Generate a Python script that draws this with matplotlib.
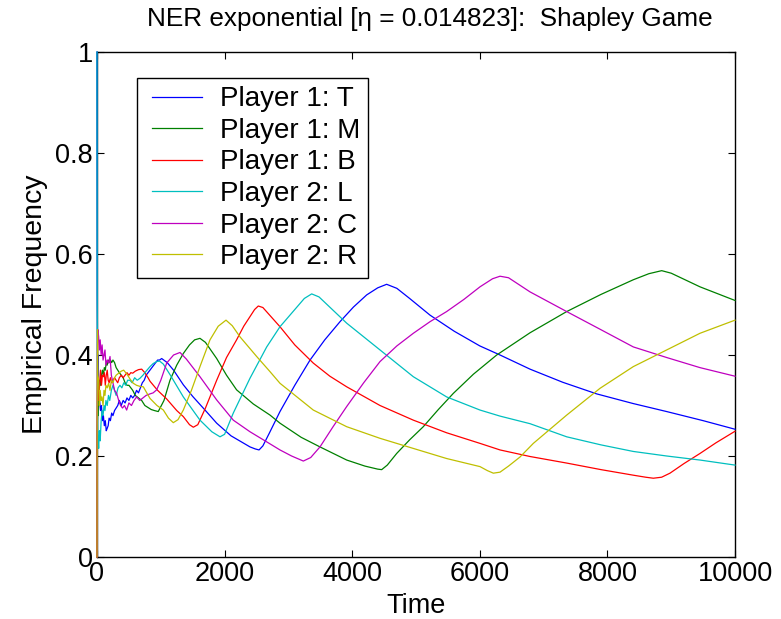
import numpy as np
import matplotlib
matplotlib.use('Agg')
from matplotlib import pyplot as plt
from matplotlib.lines import Line2D
from matplotlib.legend_handler import HandlerLine2D

# empirical frequencies, one (time, value) list per action
t_T = [0, 4, 10, 18, 28, 40, 55, 70, 85, 100, 115, 130, 145, 160, 175, 190, 210, 230, 250, 275,
       300, 325, 350, 380, 410, 440, 470, 500, 530, 560, 590, 620, 650, 680, 710, 740, 770, 800,
       830, 860, 890, 920, 950, 980, 1014, 1100, 1200, 1353, 1500, 1700, 1876, 2100, 2398, 2480,
       2540, 2600, 2700, 2868, 3100, 3339, 3570, 3809, 4020, 4227, 4400, 4540, 4700, 4900, 5219,
       5600, 6000, 6317, 6787, 7300, 7832, 8400, 8929, 9500, 10000]
f_T = [1.0, 0.52, 0.36, 0.40, 0.33, 0.31, 0.29, 0.30, 0.27, 0.28, 0.26, 0.27, 0.25, 0.255, 0.26,
       0.275, 0.27, 0.285, 0.28, 0.29, 0.295, 0.30, 0.31, 0.30, 0.31, 0.305, 0.315, 0.31, 0.32,
       0.315, 0.32, 0.33, 0.325, 0.335, 0.345, 0.35, 0.36, 0.365, 0.37, 0.375, 0.38, 0.385, 0.39,
       0.39, 0.393, 0.385, 0.37, 0.341, 0.318, 0.29, 0.265, 0.24, 0.218, 0.214, 0.212, 0.22,
       0.245, 0.288, 0.34, 0.390, 0.43, 0.466, 0.495, 0.519, 0.533, 0.540, 0.532, 0.512, 0.479,
       0.447, 0.418, 0.400, 0.372, 0.346, 0.323, 0.304, 0.288, 0.270, 0.253]

t_M = [0, 4, 10, 18, 28, 40, 55, 70, 85, 100, 115, 130, 145, 160, 175, 190, 210, 230, 250, 275,
       300, 325, 350, 380, 410, 440, 470, 500, 530, 560, 600, 650, 700, 750, 800, 850, 900, 960,
       1050, 1144, 1250, 1353, 1450, 1530, 1614, 1700, 1876, 2030, 2188, 2450, 2712, 2868, 3200,
       3495, 3914, 4200, 4400, 4462, 4550, 4697, 4900, 5114, 5350, 5585, 5900, 6265, 6787, 7362,
       7900, 8406, 8650, 8851, 9000, 9451, 10000]
f_M = [0.0, 0.25, 0.30, 0.28, 0.33, 0.35, 0.34, 0.36, 0.37, 0.36, 0.375, 0.37, 0.385, 0.38, 0.39,
       0.385, 0.39, 0.385, 0.39, 0.385, 0.375, 0.37, 0.365, 0.36, 0.355, 0.345, 0.34, 0.34, 0.335,
       0.33, 0.32, 0.315, 0.31, 0.30, 0.296, 0.292, 0.29, 0.288, 0.31, 0.35, 0.38, 0.403, 0.42,
       0.43, 0.433, 0.425, 0.393, 0.36, 0.331, 0.303, 0.281, 0.265, 0.237, 0.218, 0.192, 0.18,
       0.174, 0.173, 0.182, 0.205, 0.232, 0.258, 0.292, 0.324, 0.362, 0.400, 0.444, 0.486, 0.52,
       0.549, 0.561, 0.567, 0.562, 0.535, 0.508]

t_B = [0, 4, 10, 18, 28, 40, 55, 70, 85, 100, 115, 130, 145, 160, 175, 190, 210, 230, 250, 275,
       300, 325, 350, 380, 410, 440, 470, 500, 530, 560, 600, 650, 700, 750, 800, 831, 950, 1092,
       1250, 1353, 1450, 1510, 1580, 1700, 1876, 2030, 2188, 2300, 2398, 2470, 2528, 2600, 2868,
       3100, 3390, 3650, 3914, 4436, 4958, 5480, 6003, 6317, 6787, 7362, 7900, 8406, 8600, 8720,
       8850, 8981, 9200, 9451, 9700, 10000]
f_B = [0.0, 0.23, 0.34, 0.32, 0.31, 0.34, 0.37, 0.34, 0.36, 0.357, 0.365, 0.34, 0.36, 0.37, 0.35,
       0.345, 0.355, 0.345, 0.35, 0.355, 0.35, 0.345, 0.355, 0.36, 0.355, 0.36, 0.365, 0.36, 0.365,
       0.364, 0.368, 0.371, 0.372, 0.365, 0.355, 0.348, 0.33, 0.313, 0.29, 0.278, 0.262, 0.257,
       0.262, 0.295, 0.35, 0.395, 0.430, 0.457, 0.476, 0.490, 0.497, 0.494, 0.456, 0.42, 0.384,
       0.358, 0.337, 0.300, 0.271, 0.246, 0.225, 0.212, 0.199, 0.186, 0.173, 0.162, 0.158, 0.156,
       0.158, 0.166, 0.185, 0.205, 0.226, 0.249]

t_L = [0, 3, 8, 15, 26, 38, 50, 65, 80, 95, 110, 125, 140, 160, 180, 200, 225, 250, 275, 300, 330,
       360, 390, 420, 450, 480, 517, 550, 590, 630, 674, 720, 770, 831, 880, 935, 980, 1040, 1150,
       1353, 1614, 1800, 1928, 2000, 2136, 2398, 2660, 2868, 3100, 3250, 3365, 3480, 3914, 4436,
       4958, 5480, 6003, 6317, 6787, 7362, 7900, 8406, 8929, 9451, 10000]
f_L = [1.0, 0.55, 0.30, 0.24, 0.215, 0.25, 0.23, 0.27, 0.29, 0.28, 0.30, 0.29, 0.31, 0.30, 0.32,
       0.31, 0.33, 0.34, 0.33, 0.32, 0.335, 0.34, 0.335, 0.345, 0.34, 0.35, 0.35, 0.345, 0.355,
       0.35, 0.354, 0.36, 0.368, 0.377, 0.383, 0.387, 0.388, 0.382, 0.36, 0.317, 0.271, 0.248,
       0.238, 0.243, 0.285, 0.354, 0.416, 0.456, 0.49, 0.512, 0.521, 0.515, 0.463, 0.410, 0.357,
       0.317, 0.291, 0.279, 0.264, 0.238, 0.222, 0.209, 0.200, 0.192, 0.182]

t_C = [0, 3, 8, 15, 26, 38, 50, 65, 80, 95, 110, 125, 140, 160, 182, 204, 225, 250, 275, 308, 340,
       370, 400, 430, 465, 500, 540, 580, 622, 670, 720, 770, 831, 880, 935, 1000, 1092, 1200,
       1301, 1400, 1614, 1876, 2136, 2398, 2660, 2868, 3050, 3234, 3350, 3495, 3700, 3914, 4180,
       4436, 4700, 4958, 5220, 5480, 5750, 6003, 6200, 6317, 6450, 6787, 7362, 7900, 8406, 8929,
       9451, 10000]
f_C = [0.0, 0.30, 0.42, 0.45, 0.436, 0.41, 0.43, 0.40, 0.42, 0.39, 0.40, 0.41, 0.38, 0.39, 0.384,
       0.397, 0.36, 0.345, 0.33, 0.324, 0.31, 0.30, 0.295, 0.30, 0.291, 0.305, 0.30, 0.31, 0.317,
       0.31, 0.315, 0.32, 0.323, 0.325, 0.331, 0.35, 0.384, 0.40, 0.405, 0.392, 0.357, 0.311,
       0.271, 0.248, 0.228, 0.212, 0.200, 0.190, 0.197, 0.218, 0.258, 0.298, 0.345, 0.387, 0.418,
       0.443, 0.466, 0.486, 0.51, 0.535, 0.551, 0.556, 0.553, 0.525, 0.486, 0.45, 0.416, 0.395,
       0.375, 0.358]

t_R = [0, 3, 8, 15, 26, 38, 50, 65, 78, 95, 110, 125, 140, 160, 182, 204, 225, 250, 275, 300, 340,
       380, 418, 450, 480, 520, 569, 620, 670, 726, 780, 831, 940, 1040, 1120, 1196, 1270, 1353,
       1480, 1614, 1771, 1900, 2022, 2120, 2241, 2503, 2712, 2868, 3390, 3914, 4436, 4958, 5480,
       6003, 6120, 6212, 6317, 6450, 6630, 6839, 7362, 7884, 8406, 8929, 9451, 10000]
f_R = [0.0, 0.30, 0.45, 0.36, 0.35, 0.30, 0.33, 0.31, 0.317, 0.30, 0.33, 0.32, 0.34, 0.335, 0.344,
       0.33, 0.35, 0.345, 0.355, 0.36, 0.364, 0.368, 0.370, 0.365, 0.36, 0.352, 0.344, 0.34, 0.338,
       0.337, 0.325, 0.314, 0.30, 0.291, 0.275, 0.266, 0.272, 0.291, 0.33, 0.377, 0.430, 0.457,
       0.469, 0.458, 0.436, 0.397, 0.367, 0.344, 0.291, 0.258, 0.235, 0.215, 0.195, 0.179, 0.171,
       0.166, 0.168, 0.18, 0.198, 0.225, 0.281, 0.334, 0.377, 0.410, 0.443, 0.469]

labels = ['Player 1: T', 'Player 1: M', 'Player 1: B', 'Player 2: L', 'Player 2: C', 'Player 2: R']
colors = ['#0000ff', '#008000', '#ff0000', '#00bfbf', '#bf00bf', '#bfbf00']

plt.rcParams['font.family'] = ['Liberation Sans', 'DejaVu Sans']

fig = plt.figure(figsize=(7.81, 6.19), dpi=100)
ax = fig.add_axes([97 / 781, 62 / 619, 638 / 781, 505 / 619])

series = [(t_T, f_T), (t_M, f_M), (t_B, f_B), (t_L, f_L), (t_C, f_C), (t_R, f_R)]
for (t, f), lab, col in zip(series, labels, colors):
    ax.plot(t, f, color=col, lw=0.9, label=lab, zorder=3, clip_on=False)

ax.set_xlim(0, 10000)
ax.set_ylim(0, 1)
ax.set_xticks([0, 2000, 4000, 6000, 8000, 10000])
ax.set_yticks([0, 0.2, 0.4, 0.6, 0.8, 1])
ax.set_yticklabels(['0', '0.2', '0.4', '0.6', '0.8', '1'])
ax.tick_params(direction='in', length=5, width=0.8, top=True, right=True, pad=3,
               labelsize=19.5)
for s in ax.spines.values():
    s.set_linewidth(1.0)

ax.set_xlabel('Time', fontsize=19.5, labelpad=4)
ax.set_ylabel('Empirical Frequency', fontsize=20.5, labelpad=5)
ax.set_title('NER exponential [\u03b7 = 0.014823]:  Shapley Game', fontsize=18.8,
             pad=19, x=0.522)

# handle lines start a little inside the frame, as in the reference
leg = ax.legend(loc='upper left', bbox_to_anchor=(40 / 638, 479 / 505), borderaxespad=0,
                fontsize=20, handlelength=2.05, handletextpad=0.62, labelspacing=0.2,
                borderpad=0.3, fancybox=False, framealpha=1, edgecolor='black',
                handler_map={Line2D: HandlerLine2D(xpad=0.25)})
leg.get_frame().set_linewidth(1.0)
for h in leg.get_lines():
    h.set_linewidth(0.9)

fig.savefig('out.png', dpi=100)
